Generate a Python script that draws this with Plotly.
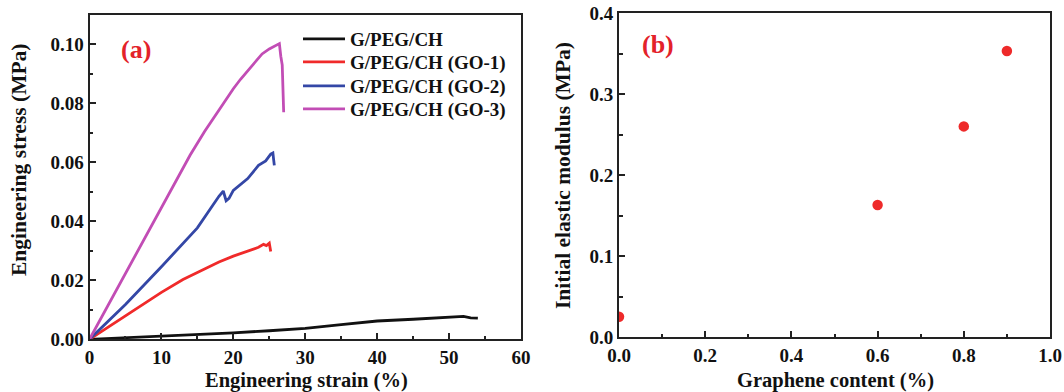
import plotly.graph_objects as go

# ---- Data (a): stress-strain curves ----
strain_ch = [0, 5, 10, 15, 20, 25, 30, 35, 40, 45, 50, 52, 53, 54]
stress_ch = [0, 0.0005, 0.0011, 0.0016, 0.0022, 0.0029, 0.0037, 0.0050, 0.0062, 0.0068, 0.0075, 0.0078, 0.0073, 0.0072]

strain_go1 = [0, 5, 10, 13, 16, 18, 20, 22, 23.5, 24.2, 24.6, 25.0, 25.1, 25.2]
stress_go1 = [0, 0.0080, 0.0159, 0.0203, 0.0240, 0.0262, 0.0282, 0.0300, 0.0312, 0.0322, 0.0318, 0.0326, 0.0312, 0.0298]

strain_go2 = [0, 5, 10, 15, 18, 18.6, 19.0, 19.4, 20, 22, 23.5, 24.5, 25.2, 25.5, 25.6, 25.7]
stress_go2 = [0, 0.0118, 0.0246, 0.0378, 0.0485, 0.0503, 0.0470, 0.0478, 0.0505, 0.0545, 0.0590, 0.0605, 0.0628, 0.0632, 0.0610, 0.0590]

strain_go3 = [0, 5, 10, 12, 14, 16, 18, 20, 21, 22, 23, 24, 25, 26, 26.4, 26.6, 26.8, 27.0]
stress_go3 = [0, 0.0225, 0.0450, 0.0540, 0.0625, 0.0705, 0.0778, 0.0850, 0.0882, 0.0912, 0.0942, 0.0968, 0.0985, 0.0997, 0.1003, 0.0960, 0.0930, 0.0770]

series_names = ["G/PEG/CH", "G/PEG/CH (GO-1)", "G/PEG/CH (GO-2)", "G/PEG/CH (GO-3)"]
series_colors = ["#111111", "#f02a2a", "#3447a6", "#c24db5"]

# ---- Data (b): initial elastic modulus ----
graphene_content = [0.0, 0.6, 0.8, 0.9]
elastic_modulus = [0.025, 0.163, 0.260, 0.353]

FONT = "Liberation Serif"
W, H = 1064, 392

fig = go.Figure()
curves = [(strain_ch, stress_ch), (strain_go1, stress_go1), (strain_go2, stress_go2), (strain_go3, stress_go3)]
legend_ids = ["legend", "legend2", "legend3", "legend4"]
legend_rows_px = [39, 62, 86, 109]
for (xs, ys), name, col, lid in zip(curves, series_names, series_colors, legend_ids):
    fig.add_trace(go.Scatter(x=xs, y=ys, mode="lines", name=name, legend=lid,
                             line=dict(color=col, width=2.8), xaxis="x", yaxis="y"))

fig.add_trace(go.Scatter(x=graphene_content, y=elastic_modulus, mode="markers",
                         marker=dict(color="#ee2a2a", size=10.5), showlegend=False,
                         xaxis="x2", yaxis="y2", cliponaxis=True))

tickfont = dict(family=FONT, size=19, color="#111", weight="bold")
axis_common = dict(showline=True, linecolor="#222", linewidth=2, mirror=True,
                   ticks="inside", ticklen=6, tickwidth=2, tickcolor="#222",
                   showgrid=False, zeroline=False, automargin=False,
                   tickfont=tickfont)
minor_common = dict(ticks="inside", ticklen=3.5, tickwidth=1.5, tickcolor="#222")

legend_layout = {}
for lid, row in zip(legend_ids, legend_rows_px):
    legend_layout[lid] = dict(x=298 / W, y=1 - row / H, xanchor="left", yanchor="middle",
                              bgcolor="rgba(0,0,0,0)", borderwidth=0, itemwidth=42,
                              font=dict(family=FONT, size=19, color="#111", weight="bold"))

fig.update_layout(
    width=W, height=H,
    margin=dict(l=0, r=0, t=0, b=0),
    paper_bgcolor="white", plot_bgcolor="white",
    font=dict(family=FONT, color="#111"),
    xaxis=dict(domain=[89.5 / W, 521 / W], range=[0, 60], dtick=10, anchor="y",
               minor=dict(dtick=5, **minor_common), **axis_common),
    yaxis=dict(domain=[1 - 339.3 / H, 1 - 15 / H], range=[0, 0.11], dtick=0.02, tickformat=".2f",
               anchor="x", minor=dict(dtick=0.01, **minor_common), **axis_common),
    xaxis2=dict(domain=[619 / W, 1050 / W], range=[0, 1.0], dtick=0.2, tickformat=".1f", anchor="y2",
                minor=dict(dtick=0.1, **minor_common), **axis_common),
    yaxis2=dict(domain=[1 - 337 / H, 1 - 13 / H], range=[0, 0.4], dtick=0.1, tickformat=".1f", anchor="x2",
                minor=dict(dtick=0.05, **minor_common), **axis_common),
    showlegend=True,
    **legend_layout,
)

xtitle_font = dict(family=FONT, size=20.5, color="#111")
ytitle_font = dict(family=FONT, size=21.5, color="#111")
annotations = [
    dict(text="<b>Engineering strain (%)</b>", x=306 / W, y=1 - 380 / H, xref="paper", yref="paper",
         showarrow=False, font=xtitle_font, xanchor="center", yanchor="middle"),
    dict(text="<b>Engineering stress (MPa)</b>", x=19 / W, y=1 - 160 / H, xref="paper", yref="paper",
         showarrow=False, font=ytitle_font, textangle=-90, xanchor="center", yanchor="middle"),
    dict(text="<b>Graphene content (%)</b>", x=835 / W, y=1 - 380 / H, xref="paper", yref="paper",
         showarrow=False, font=xtitle_font, xanchor="center", yanchor="middle"),
    dict(text="<b>Initial elastic modulus (MPa)</b>", x=563 / W, y=1 - 176 / H, xref="paper", yref="paper",
         showarrow=False, font=ytitle_font, textangle=-90, xanchor="center", yanchor="middle"),
    dict(text="<b>(a)</b>", x=136 / W, y=1 - 49 / H, xref="paper", yref="paper",
         showarrow=False, font=dict(family=FONT, size=26, color="#e3222a"), xanchor="center", yanchor="middle"),
    dict(text="<b>(b)</b>", x=658 / W, y=1 - 44 / H, xref="paper", yref="paper",
         showarrow=False, font=dict(family=FONT, size=26, color="#e3222a"), xanchor="center", yanchor="middle"),
]
fig.update_layout(annotations=annotations)

fig.write_html("out.html", config={"displayModeBar": False},
               post_script="document.body.style.margin='0px';")
